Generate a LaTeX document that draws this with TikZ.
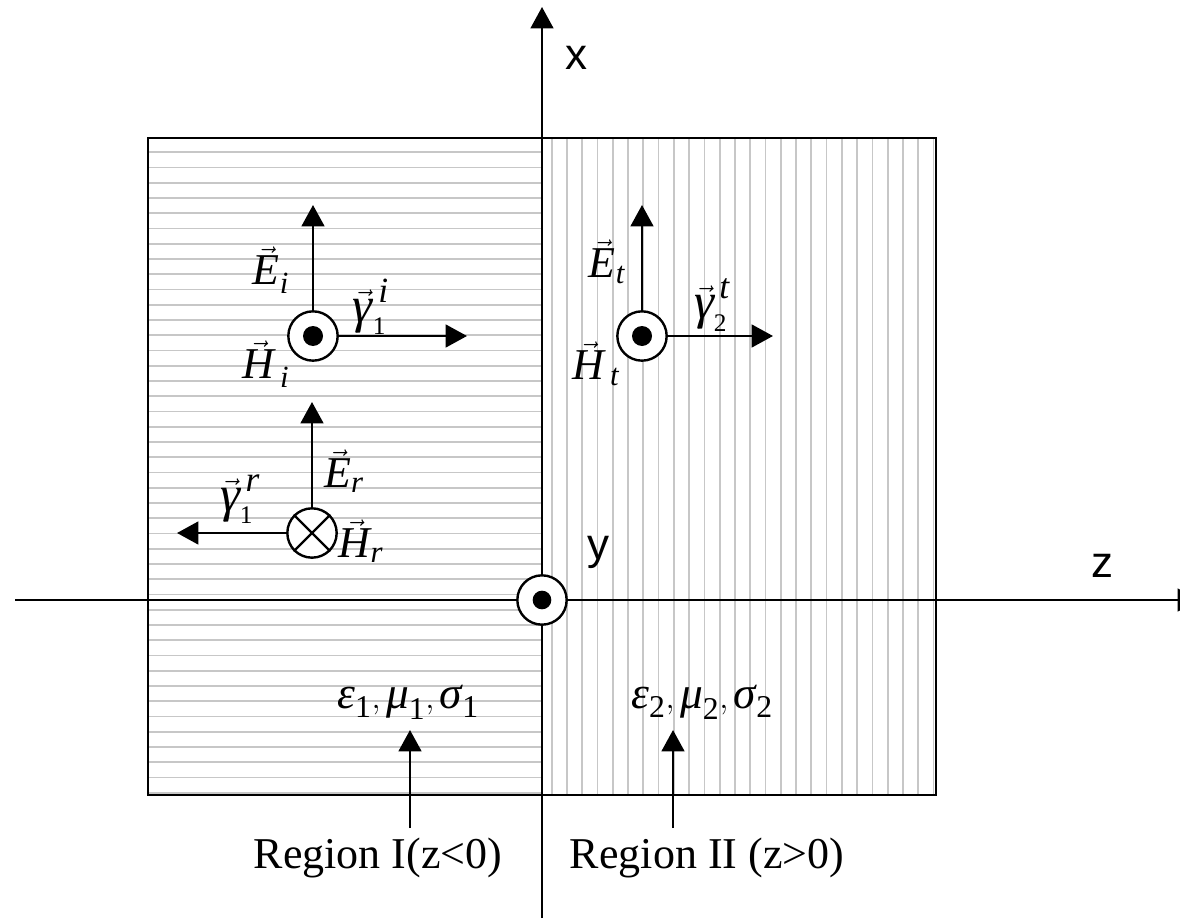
\documentclass[tikz,border=0pt]{standalone}
\usepackage{amsmath}
\usepackage{fontspec}
\setmainfont{Liberation Serif}
\newfontfamily\axisfont{Liberation Sans}
\usetikzlibrary{arrows.meta}
\begin{document}
\begin{tikzpicture}[x=0.75pt,y=-0.75pt,
  axisline/.style={line width=1.7pt,-{Triangle[length=16pt,width=17pt]}},
  vecarrow/.style={line width=1.9pt,-{Triangle[length=16pt,width=17pt]}},
  plainline/.style={line width=1.8pt},
  hatch/.style={line width=1.3pt, color=black!22},
  fieldcirc/.style={circle, draw, line width=1.8pt, minimum size=37pt, inner sep=0pt, fill=white},
  lbl/.style={font=\fontsize{33}{36}\selectfont, inner sep=0pt},
  glbl/.style={font=\fontsize{38}{40}\selectfont, inner sep=0pt},
  matlbl/.style={font=\fontsize{34}{38}\selectfont, inner sep=0pt},
  axlbl/.style={font=\axisfont\fontsize{33}{38}\selectfont, inner sep=0pt},
  reglbl/.style={font=\fontsize{33}{38}\selectfont, inner sep=0pt}]
\clip (0,0) rectangle (1180,923);
\fill[white] (0,0) rectangle (1180,923);
% hatching
\foreach \k in {0,...,42} \draw[hatch] (148,{152.3+15.25*\k}) -- (542,{152.3+15.25*\k});
\foreach \k in {0,...,25} \draw[hatch] ({551.7+15.27*\k},138) -- ({551.7+15.27*\k},795);
% box
\draw[line width=1.9pt] (148,138) rectangle (936,795);
% axes
\coordinate (xbot) at (542,918);
\coordinate (xtop) at (542,7);
\coordinate (zleft) at (15,600);
\coordinate (zright) at (1199,600);
\draw[axisline] (xbot) -- (xtop);
\draw[axisline] (zleft) -- (zright);
\node[axlbl] (xl) at (576,58) {x};
\node[axlbl] (yl) at (598,552) {y};
\node[axlbl] (zl) at (1102,566) {z};
% origin
\node[fieldcirc] (O) at (542,600) {};
\fill (O.center) circle[radius=7pt];
% incident
\node[fieldcirc] (Hi) at (313,336) {};
\fill (Hi.center) circle[radius=7.5pt];
\coordinate (EiTip) at (313,205);
\coordinate (giTip) at (467,336);
\draw[vecarrow] (Hi.north) -- (EiTip);
\draw[vecarrow] (Hi.east) -- (giTip);
\node[lbl] (Ei) at (271,270) {$\vec{\text{\itshape E}}_{\text{\itshape i}}$};
\node[lbl] (Hil) at (266,364) {$\vec{\text{\itshape H}}_{\,\text{\itshape i}}$};
\node[glbl] (gi) at (371,307) {$\vec{\text{\itshape γ}}^{\,\text{\itshape i}}_{\scriptscriptstyle\text{1}}$};
% transmitted
\node[fieldcirc] (Ht) at (642,336) {};
\fill (Ht.center) circle[radius=7.5pt];
\coordinate (EtTip) at (642,205);
\coordinate (gtTip) at (773,336);
\draw[vecarrow] (Ht.north) -- (EtTip);
\draw[vecarrow] (Ht.east) -- (gtTip);
\node[lbl] (Et) at (607,262) {$\vec{\text{\itshape E}}_{\text{\itshape t}}$};
\node[lbl] (Htl) at (596,364) {$\vec{\text{\itshape H}}_{\,\text{\itshape t}}$};
\node[glbl] (gt) at (712,305) {$\vec{\text{\itshape γ}}^{\,\text{\itshape t}}_{\scriptscriptstyle\text{2}}$};
% reflected
\node[fieldcirc] (Hr) at (312,533) {};
\draw[plainline] (Hr.45) -- (Hr.225);
\draw[plainline] (Hr.135) -- (Hr.315);
\coordinate (ErTip) at (312,402);
\coordinate (grTip) at (177,533);
\draw[vecarrow] (Hr.north) -- (ErTip);
\draw[vecarrow] (Hr.west) -- (grTip);
\node[lbl] (Er) at (344,471) {$\vec{\text{\itshape E}}_{\text{\itshape r}}$};
\node[lbl] (Hrl) at (361,541) {$\vec{\text{\itshape H}}_{\text{\itshape r}}$};
\node[glbl] (gr) at (240,499) {$\vec{\text{\itshape γ}}^{\,\text{\itshape r}}_{\scriptscriptstyle\text{1}}$};
% materials
\node[matlbl] (m1) at (408,702) {$\text{\itshape ε}_{\text{1}},\text{\itshape μ}_{\text{1}},\text{\itshape σ}_{\text{1}}$};
\node[matlbl] (m2) at (702,702) {$\text{\itshape ε}_{\text{2}},\text{\itshape μ}_{\text{2}},\text{\itshape σ}_{\text{2}}$};
% region labels
\node[reglbl] (R1) at (378,858) {Region I(z<0)};
\node[reglbl] (R2) at (707,858) {Region II (z>0)};
\coordinate (a1b) at (410,828);
\coordinate (a1t) at (410,730);
\coordinate (a2b) at (673,828);
\coordinate (a2t) at (673,730);
\draw[vecarrow] (a1b) -- (a1t);
\draw[vecarrow] (a2b) -- (a2t);
\end{tikzpicture}
\end{document}
